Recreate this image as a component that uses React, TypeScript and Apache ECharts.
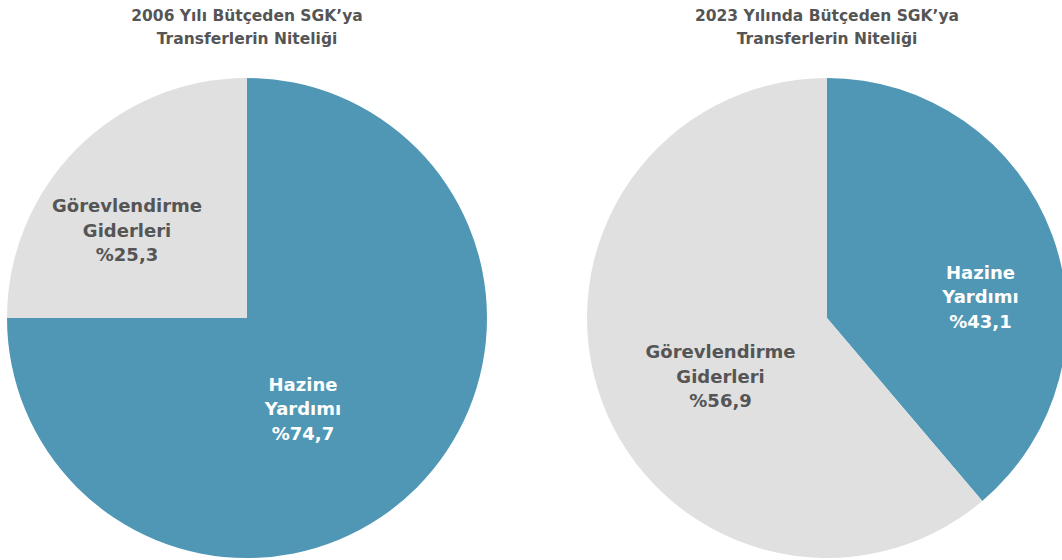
import React, { useEffect, useRef } from "react";
import * as echarts from "echarts";

const categories = ["Hazine\nYardımı", "Görevlendirme\nGiderleri"];
// percentages printed in the labels
const labels2006 = ["74,7", "25,3"];
const labels2023 = ["43,1", "56,9"];
// slice shares as drawn in the picture
const drawn2006 = [75, 25];
const drawn2023 = [38.8, 61.2];
const titles = [
  "2006 Yılı Bütçeden SGK’ya\nTransferlerin Niteliği",
  "2023 Yılında Bütçeden SGK’ya\nTransferlerin Niteliği",
];
const colors = ["#5097b6", "#e0e0e0"];
const labelColors = ["#ffffff", "#555555"];

const FONT = "'DejaVu Sans', sans-serif";

export default function App() {
  const ref = useRef<HTMLDivElement>(null);
  useEffect(() => {
    if (!ref.current) return;
    const chart = echarts.init(ref.current, null, { renderer: "svg" });
    const offsets: [number, number][][] = [
      [
        [-31, 4],
        [-33, -1],
      ],
      [
        [38, 21],
        [9, 16],
      ],
    ];
    const mk = (vals: number[], labs: string[], cx: number, si: number) => ({
      type: "pie",
      center: [cx, 318],
      radius: 240,
      startAngle: 90,
      clockwise: true,
      silent: true,
      label: {
        show: true,
        position: "inside",
        fontFamily: FONT,
        fontWeight: "bold",
        fontSize: 18,
        lineHeight: 24.5,
        align: "center",
        formatter: (p: any) => p.name + "\n%" + labs[p.dataIndex],
      },
      labelLayout: (p: any) => {
        const o = offsets[si][p.dataIndex] || [0, 0];
        return { dx: o[0], dy: o[1] };
      },
      labelLine: { show: false },
      itemStyle: { borderWidth: 0 },
      data: vals.map((v, i) => ({
        name: categories[i],
        value: v,
        itemStyle: { color: colors[i] },
        label: { color: labelColors[i] },
      })),
    });
    chart.setOption({
      animation: false,
      graphic: titles.map((t, i) => ({
        type: "text",
        x: i === 0 ? 247 : 827,
        y: 4,
        style: {
          text: t,
          fill: "#555555",
          font: `bold 15.5px ${FONT}`,
          textAlign: "center",
          lineHeight: 23,
        },
      })),
      series: [
        mk(drawn2006, labels2006, 247, 0),
        mk(drawn2023, labels2023, 827, 1),
      ],
    });
    return () => chart.dispose();
  }, []);
  return (
    <div
      ref={ref}
      style={{ position: "fixed", left: 0, top: 0, width: 1062, height: 560, background: "#fff" }}
    />
  );
}
